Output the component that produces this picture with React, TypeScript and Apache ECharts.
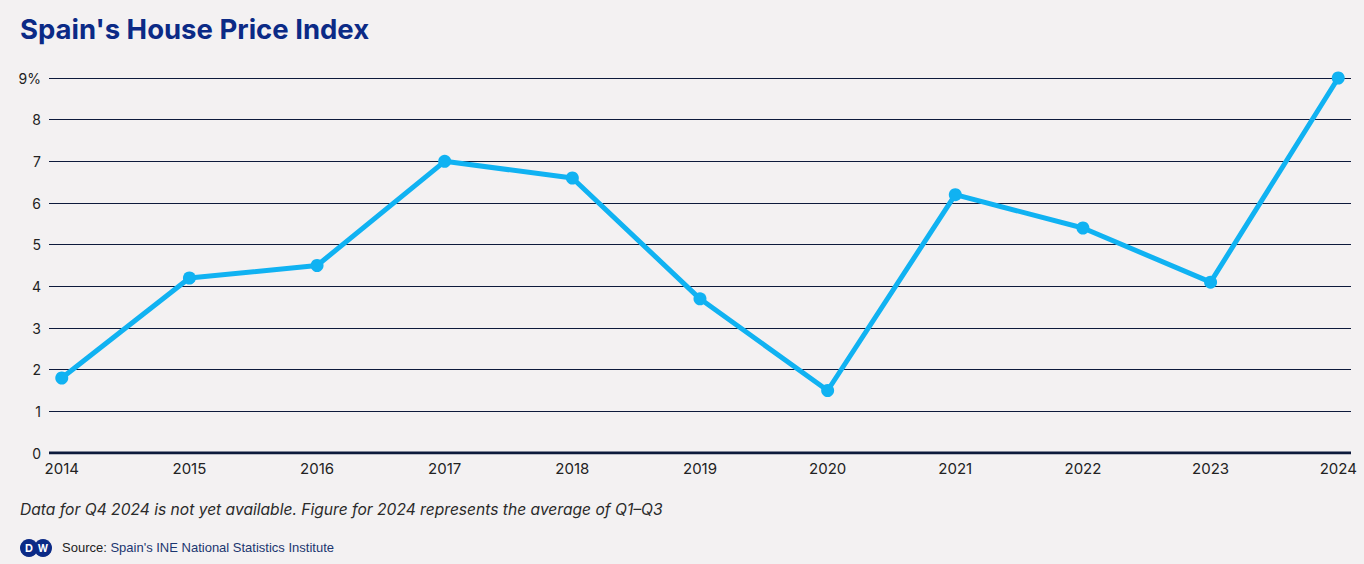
import React, { useEffect, useRef } from "react";
import * as echarts from "echarts";

const years = [2014, 2015, 2016, 2017, 2018, 2019, 2020, 2021, 2022, 2023, 2024];
const values = [1.8, 4.2, 4.5, 7.0, 6.6, 3.7, 1.5, 6.2, 5.4, 4.1, 9.0];

const TITLE = "Spain's House Price Index";
const NOTE = "Data for Q4 2024 is not yet available. Figure for 2024 represents the average of Q1–Q3";
const SOURCE_LABEL = "Source: ";
const SOURCE = "Spain's INE National Statistics Institute";

export default function App() {
  const ref = useRef<HTMLDivElement>(null);
  useEffect(() => {
    if (!ref.current) return;
    const chart = echarts.init(ref.current, null, { renderer: "svg" });
    const font = "Inter, 'Open Sans', 'Noto Sans', sans-serif";
    chart.setOption({
      animation: false,
      backgroundColor: "#f3f1f2",
      textStyle: { fontFamily: font },
      grid: { left: 49, right: 13, top: 78, bottom: 111, containLabel: false },
      xAxis: {
        type: "value",
        min: years[0] - 0.1,
        max: years[years.length - 1] + 0.1,
        axisLine: { show: false },
        axisTick: { show: false },
        splitLine: { show: false },
        axisLabel: {
          customValues: years,
          formatter: (v: number) => String(Math.round(v)),
          color: "#222",
          fontSize: 15,
          fontFamily: font,
          margin: 8,
        },
      },
      yAxis: {
        type: "value",
        min: 0,
        max: 9,
        interval: 1,
        axisLine: { show: false },
        axisTick: { show: false },
        splitLine: { show: true, lineStyle: { color: "#0d1a3c", width: 1 } },
        axisLabel: {
          formatter: (v: number) => (v === 9 ? "9%" : String(v)),
          color: "#222",
          fontSize: 14,
          fontFamily: font,
          margin: 8,
        },
      },
      series: [
        {
          type: "line",
          data: years.map((y, i) => [y, values[i]]),
          lineStyle: { color: "#10b2f2", width: 5 },
          itemStyle: { color: "#10b2f2" },
          symbol: "circle",
          symbolSize: 13,
          z: 5,
        },
        {
          type: "line",
          data: [[years[0] - 0.1, 0], [years[years.length - 1] + 0.1, 0]],
          lineStyle: { color: "#0d1a3c", width: 3 },
          symbol: "none",
          silent: true,
          z: 3,
        },
      ],
      graphic: [
        {
          type: "text",
          left: 20,
          top: 15,
          style: { text: TITLE, font: `bold 27.5px ${font}`, fill: "#0b2a86" },
        },
        {
          type: "text",
          left: 20,
          top: 501,
          style: { text: NOTE, font: `italic 15.6px ${font}`, fill: "#2a2a2a" },
        },
        { type: "circle", shape: { cx: 29, cy: 548, r: 9 }, style: { fill: "#0b2a86" } },
        { type: "circle", shape: { cx: 43, cy: 548, r: 9 }, style: { fill: "#0b2a86" } },
        {
          type: "text",
          x: 29,
          y: 548,
          style: { text: "D", font: `bold 11px ${font}`, fill: "#fff", align: "center", verticalAlign: "middle" },
        },
        {
          type: "text",
          x: 43,
          y: 548,
          style: { text: "W", font: `bold 10px ${font}`, fill: "#fff", align: "center", verticalAlign: "middle" },
        },
        {
          type: "text",
          left: 62,
          top: 541,
          style: {
            text: `{a|${SOURCE_LABEL}}{b|${SOURCE}}`,
            rich: {
              a: { font: `13px ${font}`, fill: "#222", fontSize: 13, color: "#222" },
              b: { font: `13px ${font}`, fill: "#1b3670", fontSize: 13, color: "#1b3670" },
            },
          },
        },
      ],
    });
    return () => chart.dispose();
  }, []);
  return (
    <div
      ref={ref}
      style={{ position: "fixed", left: 0, top: 0, width: 1364, height: 564 }}
    />
  );
}
